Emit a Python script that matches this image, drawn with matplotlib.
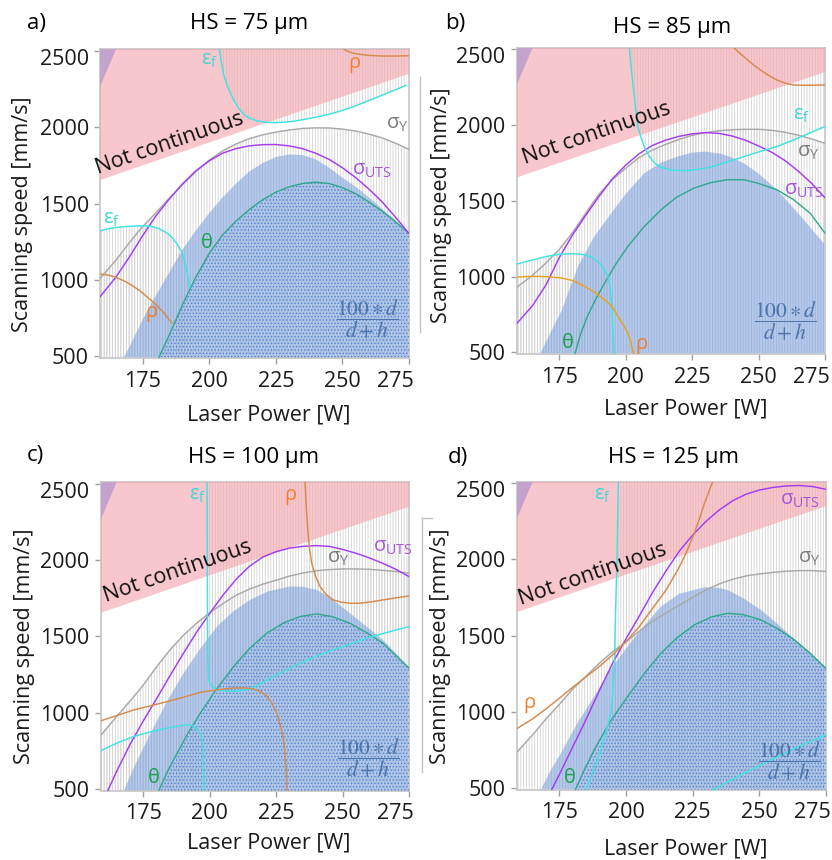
import matplotlib
matplotlib.use("Agg")
import matplotlib.pyplot as plt
from matplotlib.patches import Polygon
from matplotlib.lines import Line2D
from matplotlib.transforms import ScaledTranslation

plt.rcParams["font.family"] = ["Open Sans", "DejaVu Sans"]
plt.rcParams["hatch.linewidth"] = 0.6

# ---------------------------------------------------------------- data
power_grid = [159, 165, 170, 175, 180, 185, 190, 195, 200, 205, 210, 215,
              220, 225, 230, 235, 240, 245, 250, 255, 260, 265, 270, 275]
power_ticks = [175, 200, 225, 250, 275]
speed_ticks = [500, 1000, 1500, 2000, 2500]

# "Not continuous" limit line and the small corner triangle
noncont_power = [159, 275]
noncont_speed = [1654, 2350]
corner_power = [159, 165, 159]
corner_speed = [2510, 2510, 2265]

# HS = 75 µm
a_sy = [1010, 1130, 1245, 1350, 1440, 1535, 1625, 1710, 1785, 1845, 1890, 1925,
        1950, 1968, 1982, 1992, 1996, 1995, 1988, 1975, 1955, 1930, 1895, 1855]
a_uts = [890, 1020, 1150, 1290, 1420, 1530, 1630, 1715, 1780, 1830, 1860, 1878,
         1886, 1887, 1878, 1860, 1830, 1790, 1735, 1670, 1595, 1510, 1410, 1305]
a_efl_p = [159, 162, 165, 170, 175, 178, 181, 184, 186, 188, 189.5, 190.5, 191.5, 192.2, 192.6]
a_efl_v = [1322, 1335, 1344, 1352, 1355, 1352, 1338, 1310, 1280, 1235, 1190, 1140, 1070, 1000, 955]
a_efr_p = [203.8, 204.5, 205.5, 207, 209, 211, 213, 215, 218, 221, 224, 228, 232,
           236, 240, 245, 250, 255, 260, 265, 270, 274]
a_efr_v = [2510, 2430, 2340, 2260, 2185, 2125, 2085, 2060, 2042, 2033, 2030, 2032, 2040,
           2052, 2066, 2085, 2110, 2140, 2175, 2210, 2245, 2275]
a_rhol_p = [159, 162, 165, 168, 171, 174, 177, 180, 183, 186]
a_rhol_v = [1039, 1033, 1018, 995, 965, 930, 885, 840, 785, 718]
a_rhor_p = [250.5, 252, 254, 257, 260, 265, 270, 275]
a_rhor_v = [2510, 2497, 2485, 2476, 2470, 2466, 2466, 2468]
a_theta_p = [181, 185, 190, 195, 200, 205, 210, 215, 220, 225, 230, 235, 240,
             245, 250, 255, 260, 265, 270, 275]
a_theta_v = [490, 640, 840, 1020, 1175, 1295, 1385, 1460, 1525, 1575, 1610, 1632, 1640,
             1632, 1605, 1565, 1510, 1450, 1380, 1305]
a_blue_p = [167.8, 170, 175, 180, 185, 190, 195, 200, 205, 210, 215, 220, 225, 230,
            235, 240, 245, 250, 255, 260, 265, 270, 275]
a_blue_v = [490, 560, 741, 900, 1050, 1200, 1325, 1438, 1540, 1630, 1710, 1765, 1805, 1822,
            1818, 1790, 1735, 1670, 1610, 1540, 1465, 1390, 1310]

# HS = 85 µm
b_sy = [930, 1010, 1090, 1180, 1290, 1420, 1545, 1640, 1715, 1785, 1835, 1872,
        1905, 1932, 1950, 1962, 1969, 1972, 1972, 1965, 1952, 1933, 1908, 1880]
b_uts = [690, 810, 945, 1125, 1275, 1405, 1530, 1645, 1735, 1810, 1865, 1900,
         1925, 1942, 1950, 1945, 1928, 1900, 1862, 1820, 1765, 1695, 1615, 1520]
b_efl_p = [159, 165, 170, 175, 178.4, 182, 184.6, 187, 189.6, 191.5, 193.3, 194.2,
           194.6, 195, 195.2, 195.8]
b_efl_v = [1083, 1110, 1133, 1147, 1151, 1150, 1144, 1130, 1100, 1062, 1002, 930,
           848, 740, 628, 490]
b_efr_p = [201.4, 202, 202.7, 203.6, 204.6, 205.8, 207, 208.8, 210.8, 213, 217, 220,
           223.3, 227, 232, 238, 244.5, 250, 256.9, 263, 269, 275]
b_efr_v = [2510, 2390, 2275, 2130, 1990, 1915, 1858, 1795, 1750, 1722, 1704, 1700,
           1700, 1708, 1722, 1755, 1792, 1822, 1858, 1900, 1945, 1990]
b_rhol_p = [159, 163, 167, 171, 175.9, 180, 184.6, 188.5, 192.1, 195, 197.1, 199,
            200.8, 202, 202.7, 203]
b_rhol_v = [997, 1001, 1002, 999, 991, 975, 936, 895, 848, 800, 738, 685,
            628, 565, 508, 490]
b_rhor_p = [240.7, 242.5, 244.5, 247.5, 250.7, 254, 256.9, 260, 263.2, 267, 275]
b_rhor_v = [2510, 2480, 2451, 2405, 2363, 2325, 2297, 2276, 2264, 2262, 2264]
b_theta_p = [180.9, 183, 185.6, 189, 192.1, 196, 200.8, 207, 213.3, 219, 225.7, 232,
             238.2, 244.5, 250, 256.9, 263, 269.4, 275]
b_theta_v = [490, 620, 738, 860, 958, 1075, 1199, 1330, 1441, 1522, 1584, 1620,
             1639, 1639, 1615, 1573, 1510, 1419, 1287]
b_blue_p = [167.8, 172, 176, 182.1, 188, 194.6, 200, 207, 213, 219.5, 225, 230, 236,
            240, 244.5, 250, 256.9, 262, 268, 275]
b_blue_v = [490, 640, 780, 1068, 1260, 1419, 1545, 1682, 1750, 1792, 1818, 1825, 1810,
            1785, 1748, 1680, 1573, 1475, 1355, 1210]

# HS = 100 µm
c_sy = [850, 975, 1075, 1180, 1300, 1410, 1505, 1585, 1655, 1715, 1770, 1810,
        1842, 1868, 1895, 1915, 1930, 1938, 1942, 1942, 1940, 1933, 1925, 1914]
c_uts_p = [161.7, 165, 170, 175, 180, 185, 190, 195, 200, 205, 210, 215, 220, 225,
           230, 235, 240, 245, 250, 255, 260, 265, 270, 275]
c_uts_v = [490, 615, 790, 945, 1090, 1240, 1385, 1525, 1650, 1770, 1875, 1960, 2020, 2055,
           2078, 2090, 2095, 2090, 2070, 2045, 2015, 1980, 1940, 1892]
c_efl_p = [159, 165, 171.5, 178, 184, 188, 191.5, 193.5, 195.2, 196.4, 197.1, 197.5, 197.7, 197.8]
c_efl_v = [750, 800, 844, 875, 898, 912, 920, 915, 898, 865, 822, 740, 625, 490]
c_efr_p = [199.0, 199.1, 199.2, 199.3, 199.5, 199.9, 200.9, 202.5, 204, 206.5, 209, 212,
           215.8, 218.5, 221.5, 228, 234, 240, 246.5, 253, 259, 267, 275]
c_efr_v = [2510, 2000, 1600, 1390, 1260, 1200, 1171, 1152, 1145, 1141, 1140, 1145,
           1158, 1185, 1215, 1272, 1324, 1370, 1412, 1450, 1488, 1527, 1564]
c_rhol_p = [159, 165, 171.5, 178, 184, 190, 196.5, 203, 209, 213, 216.5, 219.5, 221.5,
            223.5, 225.2, 226.7, 227.8, 228.4, 228.8, 229]
c_rhol_v = [946, 980, 1018, 1046, 1072, 1100, 1133, 1150, 1161, 1162, 1155, 1135, 1106,
            1060, 997, 910, 822, 720, 625, 490]
c_rhor_p = [235.9, 236.4, 237.1, 237.7, 238.4, 239.8, 241.5, 243.8, 246.5, 249.5, 252.8,
            256, 259, 265, 270, 275]
c_rhor_v = [2510, 2330, 2154, 2060, 1980, 1895, 1827, 1775, 1739, 1724, 1717,
            1717, 1722, 1738, 1752, 1765]
c_theta_p = [180.9, 184, 187.8, 192, 196.5, 202, 209, 215, 221.5, 228, 234, 240.2, 246,
             252.8, 259, 265.2, 270, 275]
c_theta_v = [490, 610, 735, 870, 997, 1140, 1302, 1420, 1521, 1590, 1630, 1647, 1630,
             1586, 1525, 1455, 1375, 1292]
c_blue_p = [167.8, 172, 177.8, 184, 190.2, 196.5, 202.8, 209, 215.2, 222, 230.2, 235,
            240.2, 246, 252.8, 259, 265.2, 270, 275]
c_blue_v = [490, 660, 866, 1075, 1259, 1420, 1565, 1665, 1739, 1795, 1827, 1825,
            1805, 1745, 1652, 1565, 1477, 1390, 1295]

# HS = 125 µm
d_sy = [735, 850, 955, 1050, 1150, 1235, 1320, 1395, 1460, 1530, 1595, 1650,
        1700, 1752, 1800, 1840, 1870, 1892, 1905, 1915, 1923, 1927, 1927, 1921]
d_uts_p = [172.1, 175, 180, 185, 190, 195, 200, 205, 210, 215, 220, 225, 230, 235,
           240, 245, 250, 255, 260, 265, 270, 275]
d_uts_v = [490, 590, 770, 950, 1140, 1320, 1480, 1630, 1785, 1925, 2055, 2160, 2250, 2325,
           2385, 2428, 2455, 2472, 2482, 2485, 2478, 2460]
d_ef_p = [185, 186.5, 188, 189.3, 190.6, 191.6, 192.5, 193.5, 194.4, 195, 195.6, 196.0,
          196.6, 197.1]
d_ef_v = [490, 560, 630, 690, 752, 810, 870, 935, 1000, 1120, 1300, 1600, 2000, 2510]
d_ef2_p = [232.5, 238, 244.4, 250, 256.9, 265, 275]
d_ef2_v = [490, 540, 599, 648, 708, 775, 850]
d_rho_p = [159, 165, 170, 175, 180, 185, 190, 195, 200, 205, 210, 215, 219.4, 222.5,
           225.6, 227.5, 229.4, 231, 232.5]
d_rho_v = [890, 955, 1020, 1090, 1162, 1230, 1298, 1375, 1460, 1560, 1680, 1800, 1931, 2040,
           2172, 2265, 2368, 2440, 2510]
d_theta_p = [181, 184.5, 188.1, 194, 200.6, 207, 213.1, 219, 225.6, 232, 238.1, 244,
             250.6, 257, 263.1, 269, 275]
d_theta_v = [490, 625, 752, 935, 1102, 1255, 1385, 1485, 1571, 1623, 1647, 1638,
             1604, 1545, 1473, 1385, 1285]
d_blue_p = [168.1, 171.5, 175.6, 181.5, 188.1, 194, 200.6, 207, 213.1, 220, 229.4, 234,
            238.1, 244, 250.6, 257, 263.1, 269, 275]
d_blue_v = [490, 610, 730, 920, 1102, 1275, 1429, 1570, 1691, 1775, 1818, 1815,
            1800, 1745, 1669, 1575, 1478, 1392, 1290]

# ---------------------------------------------------------------- style
X_MIN, X_MAX = 159, 275
Y_MIN, Y_MAX = 488, 2510
FLOOR, CEIL, X_EDGE = 0, 3000, 300

PINK = "#f3a3ac"
CORNER = "#c3a3cb"
BLUE = "#6a95d9"
DOTS = "#4f86d2"
STRIPE = "#d3d3d3"
SY_C, SY_L = "#a9a9a9", "#7a7a7a"
UTS_C, UTS_L = "#a43df0", "#a556d6"
EF_C, EF_L = "#3fe3e3", "#3fd6d6"
RHO_C, RHO_GOLD, RHO_L = "#d68a4c", "#e9a21e", "#f07d2e"
TH_C, TH_L = "#2ea88c", "#18a14e"

W, H = 832, 860
fig = plt.figure(figsize=(W / 100, H / 100), dpi=100)


def rect(l, r, t, b):
    return [l / W, 1 - b / H, (r - l) / W, (b - t) / H]


def below(p, v):
    return list(zip(p, v)) + [(p[-1], FLOOR), (p[0], FLOOR)]


def above(p, v):
    return list(zip(p, v)) + [(p[-1], CEIL), (p[0], CEIL)]


def stripes(ax, pts):
    ax.add_patch(Polygon(pts, closed=True, facecolor="none", edgecolor=STRIPE,
                         hatch="||||||", lw=0, zorder=1))


def setup(ax, ylab_xy, xlab_xy):
    ax.set_xlim(X_MIN, X_MAX)
    ax.set_ylim(Y_MIN, Y_MAX)
    ax.set_xticks(power_ticks)
    ax.set_yticks(speed_ticks)
    for s in ax.spines.values():
        s.set_color("#c9c9c9")
        s.set_linewidth(1.3)
    ax.tick_params(direction="out", length=4, width=1, color="#a0a0a0",
                   labelsize=15.5, labelcolor="#1b1b1b")
    ax.tick_params(axis="y", pad=4)
    ax.tick_params(axis="x", pad=5)
    ax.set_ylabel("Scanning speed [mm/s]", fontsize=15.5, color="#1b1b1b")
    ax.set_xlabel("Laser Power [W]", fontsize=15.5, color="#1b1b1b")
    ax.yaxis.set_label_coords(*ylab_xy)
    ax.xaxis.set_label_coords(*xlab_xy)
    # end labels are kept inside the frame edges
    top = ax.yaxis.get_major_ticks()[-1].label1
    top.set_va("top")
    top.set_transform(top.get_transform() + ScaledTranslation(0, 0.02, fig.dpi_scale_trans))
    last = ax.xaxis.get_major_ticks()[-1].label1
    last.set_ha("right")
    last.set_transform(last.get_transform() + ScaledTranslation(0.05, 0, fig.dpi_scale_trans))


def base(ax, blue_p, blue_v, theta_p, theta_v, dotted=True):
    ax.add_patch(Polygon(below(blue_p, blue_v), closed=True, facecolor=BLUE,
                         alpha=0.5, lw=0, zorder=2))
    if dotted:
        ax.add_patch(Polygon(below(theta_p, theta_v), closed=True, facecolor="none",
                             edgecolor=DOTS, hatch=".....", lw=0, zorder=3))
    pink = list(zip(noncont_power, noncont_speed)) + [(noncont_power[-1], CEIL),
                                                     (noncont_power[0], CEIL)]
    ax.add_patch(Polygon(pink, closed=True, facecolor=PINK, alpha=0.6, lw=0, zorder=4))
    ax.add_patch(Polygon(list(zip(corner_power, corner_speed)), closed=True,
                         facecolor=CORNER, lw=0, zorder=5))
    ax.plot(theta_p, theta_v, color=TH_C, lw=1.0, zorder=6)


def line(ax, p, v, c):
    ax.plot(p, v, color=c, lw=1.05, zorder=6, solid_capstyle="round",
            solid_joinstyle="round")


def label(ax, x, y, s, c, size=14.5):
    ax.text(x, y, s, color=c, fontsize=size, ha="center", va="center", zorder=8)


def extras(ax, nc_xy, frac_xy):
    ax.text(*nc_xy, "Not continuous", fontsize=15.5, rotation=19,
            rotation_mode="anchor", ha="center", va="center", color="#111111", zorder=8)
    ax.text(*frac_xy, r"$\dfrac{100\ast d}{d+h}$", math_fontfamily="stix",
            fontsize=15.5, color="#4d74ab", ha="center", va="center", zorder=8)


EPS = r"$\mathregular{ε_f}$"
SIGY = r"$\mathregular{σ_Y}$"
SIGU = r"$\mathregular{σ_{UTS}}$"

# ---------------------------------------------------------------- panel a
ax = fig.add_axes(rect(100, 409, 49.3, 358.3))
setup(ax, (-0.217, 0.467), (0.547, -0.148))
stripes(ax, below(power_grid, a_sy))
stripes(ax, below(a_efl_p, a_efl_v))
stripes(ax, above(a_efr_p, a_efr_v))
base(ax, a_blue_p, a_blue_v, a_theta_p, a_theta_v)
line(ax, power_grid, a_sy, SY_C)
line(ax, power_grid, a_uts, UTS_C)
line(ax, a_efl_p, a_efl_v, EF_C)
line(ax, a_efr_p, a_efr_v, EF_C)
line(ax, a_rhol_p, a_rhol_v, RHO_C)
line(ax, a_rhor_p, a_rhor_v, RHO_C)
label(ax, 200, 2440, EPS, EF_L)
label(ax, 254.6, 2420, "ρ", RHO_L)
label(ax, 270.5, 2020, SIGY, SY_L)
label(ax, 261, 1720, SIGU, UTS_L)
label(ax, 163.4, 1400, EPS, EF_L)
label(ax, 199, 1245, "θ", TH_L)
label(ax, 178.4, 790, "ρ", RHO_L)
extras(ax, (185.3, 1895), (259.6, 740))

# ---------------------------------------------------------------- panel b
ax = fig.add_axes(rect(516.7, 825, 47.7, 354.3))
setup(ax, (-0.211, 0.487), (0.548, -0.143))
stripes(ax, below(power_grid, b_sy))
stripes(ax, below(b_efl_p, b_efl_v))
stripes(ax, above(b_efr_p, b_efr_v))
base(ax, b_blue_p, b_blue_v, b_theta_p, b_theta_v, dotted=False)
line(ax, power_grid, b_sy, SY_C)
line(ax, power_grid, b_uts, UTS_C)
line(ax, b_efl_p, b_efl_v, EF_C)
line(ax, b_efr_p, b_efr_v, EF_C)
line(ax, b_rhol_p, b_rhol_v, RHO_GOLD)
line(ax, b_rhor_p, b_rhor_v, RHO_C)
label(ax, 178.4, 565, "θ", TH_L)
label(ax, 205.8, 555, "ρ", RHO_L)
label(ax, 266.3, 2067, EPS, EF_L)
label(ax, 268.8, 1825, SIGY, SY_L)
label(ax, 267, 1573, SIGU, UTS_L)
extras(ax, (189, 1946), (260, 705))

# ---------------------------------------------------------------- panel c
ax = fig.add_axes(rect(100.7, 409, 482.3, 790.7))
setup(ax, (-0.213, 0.47), (0.546, -0.136))
stripes(ax, below(power_grid, c_sy))
stripes(ax, below(c_efl_p, c_efl_v))
stripes(ax, above(c_efr_p, c_efr_v))
base(ax, c_blue_p, c_blue_v, c_theta_p, c_theta_v)
line(ax, power_grid, c_sy, SY_C)
line(ax, c_uts_p, c_uts_v, UTS_C)
line(ax, c_efl_p, c_efl_v, EF_C)
line(ax, c_efr_p, c_efr_v, EF_C)
line(ax, c_rhol_p, c_rhol_v, RHO_C)
line(ax, c_rhor_p, c_rhor_v, RHO_C)
label(ax, 195.3, 2427, EPS, EF_L)
label(ax, 230.3, 2427, "ρ", RHO_L)
label(ax, 269, 2089, SIGU, UTS_L)
label(ax, 248.4, 2012, SIGY, SY_L)
label(ax, 179, 571, "θ", TH_L)
extras(ax, (187.8, 1925), (259.6, 702))

# ---------------------------------------------------------------- panel d
ax = fig.add_axes(rect(516.7, 826, 481.7, 790))
setup(ax, (-0.211, 0.465), (0.548, -0.158))
stripes(ax, below(power_grid, d_sy))
stripes(ax, list(zip(d_ef_p, d_ef_v)) + [(X_EDGE, CEIL), (X_EDGE, FLOOR)])
base(ax, d_blue_p, d_blue_v, d_theta_p, d_theta_v)
line(ax, power_grid, d_sy, SY_C)
line(ax, d_uts_p, d_uts_v, UTS_C)
line(ax, d_ef_p, d_ef_v, EF_C)
line(ax, d_ef2_p, d_ef2_v, EF_C)
line(ax, d_rho_p, d_rho_v, RHO_C)
label(ax, 191.3, 2423, EPS, EF_L)
label(ax, 265, 2390, SIGU, UTS_L)
label(ax, 268.8, 2008, SIGY, SY_L)
label(ax, 163.8, 1058, "ρ", RHO_L)
label(ax, 178.8, 566, "θ", TH_L)
extras(ax, (187.5, 1899), (261.2, 676))

# ---------------------------------------------------------------- headings
heads = [("a)", 36, 23, "HS = 75 µm", 249, 23),
         ("b)", 455, 24, "HS = 85 µm", 672, 27),
         ("c)", 35, 456, "HS = 100 µm", 254, 457),
         ("d)", 458, 457, "HS = 125 µm", 673, 458)]
for tag, tx, ty, title, hx, hy in heads:
    fig.text(tx / W, 1 - ty / H, tag, fontsize=16, ha="center", va="center")
    fig.text(hx / W, 1 - hy / H, title, fontsize=16, ha="center", va="center")

# thin separators between the columns
for xs, ys in [([420, 420], [77, 332]), ([421.7, 421.7], [518, 772]),
               ([421.7, 432], [518, 518])]:
    fig.add_artist(Line2D([x / W for x in xs], [1 - y / H for y in ys],
                          color="#c4c4c4", lw=1))

fig.savefig("out.png", dpi=100, facecolor="white")
